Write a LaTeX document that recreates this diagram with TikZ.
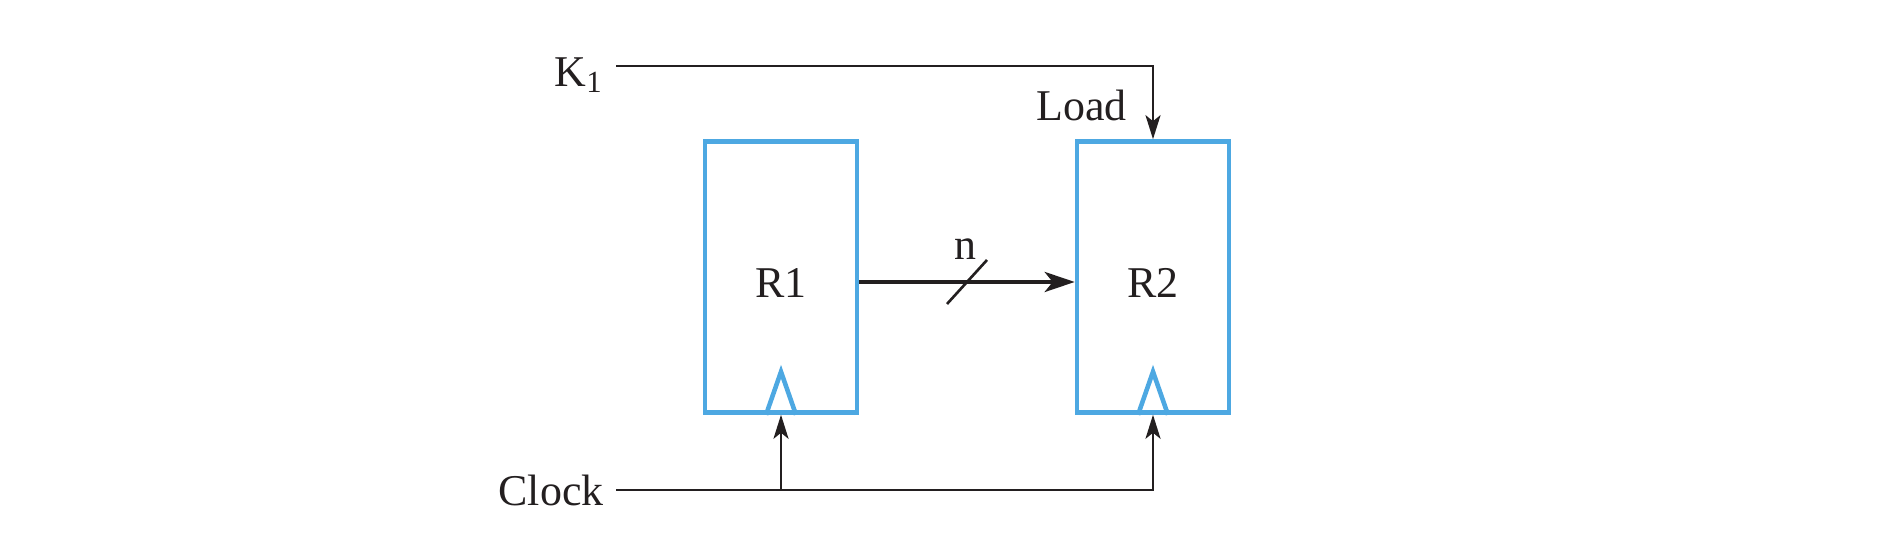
\documentclass[tikz,border=0pt]{standalone}
\usepackage{fontspec}
\setmainfont{Liberation Serif}
\usetikzlibrary{arrows.meta, calc, positioning}
\definecolor{regblue}{RGB}{77,168,226}
\definecolor{wireblack}{RGB}{35,31,32}

\begin{document}
\begin{tikzpicture}[
	reg/.style={draw=regblue, line width=1.3pt, minimum width=1.52cm, minimum height=2.71cm, inner sep=0pt},
	wire/.style={draw=wireblack, line width=0.75pt},
	tip/.style={-{Stealth[length=0.24cm, width=0.15cm, inset=0.06cm]}},
	lbl/.style={font=\fontsize{12.5}{15}\selectfont, text=wireblack}]
	\useasboundingbox (0,0) rectangle (18.82,5.44);
	\def\clk#1{\draw[regblue, line width=1.3pt, line join=miter] ($(#1.south)+(-0.15,0)$) -- ++(0.15,0.43) -- ++(0.15,-0.43);}
	% registers
	\node[reg, label={[lbl, yshift=-0.06cm]center:R1}] (r1) at (7.81,2.67) {};
	\node[reg, label={[lbl, yshift=-0.06cm]center:R2}] (r2) at (11.53,2.67) {};
	\clk{r1}\clk{r2}
	% n-bit transfer
	\draw[wire, line width=1.2pt, -{Stealth[length=0.3cm, width=0.2cm, inset=0.08cm]}] ([yshift=-0.05cm]r1.east) -- ([yshift=-0.05cm]r2.west);
	\coordinate (mid) at ($(r1.east)!0.5!(r2.west)+(0,-0.05)$);
	\draw[wire] ($(mid)+(-0.2,-0.22)$) -- ($(mid)+(0.2,0.22)$);
	\node[lbl] (n) at ($(mid)+(-0.02,0.33)$) {n};
	% load
	\node[lbl, anchor=east] (k1) at (6.16,4.69) {K\textsubscript{1}};
	\node[lbl, anchor=east] (load) at ($(r2.north)+(-0.14,0.34)$) {Load};
	\draw[wire, tip] ([yshift=0.09cm]k1.east) -- ([yshift=0.09cm]k1.east -| r2.north) -- (r2.north);
	% clock
	\node[lbl, anchor=east] (clk) at (6.16,0.54) {Clock};
	\draw[wire, tip] (clk) -- (clk -| r2.south) -- (r2.south);
	\draw[wire, tip] (clk -| r1.south) -- (r1.south);
\end{tikzpicture}
\end{document}
